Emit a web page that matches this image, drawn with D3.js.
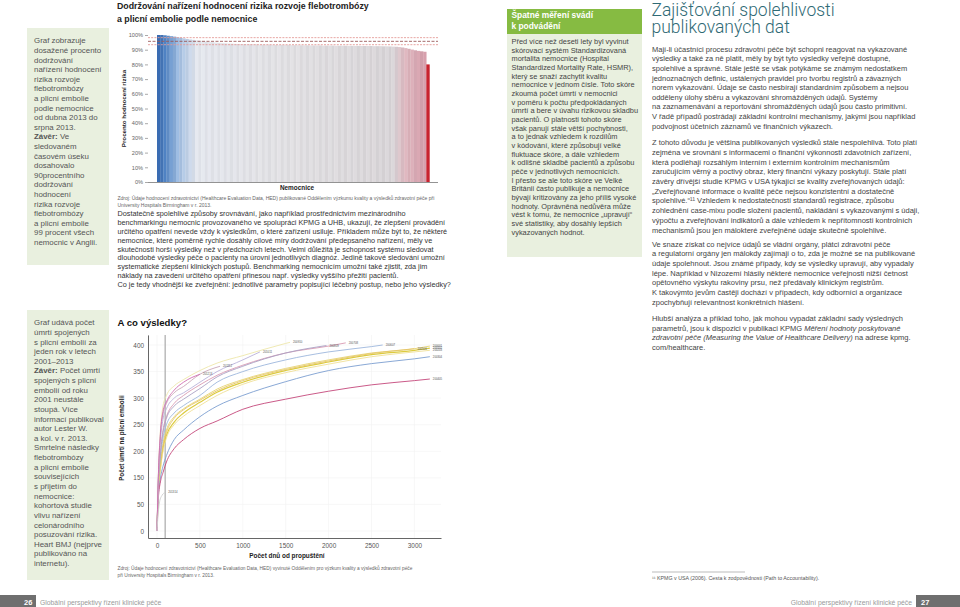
<!DOCTYPE html>
<html>
<head>
<meta charset="utf-8">
<script src="https://cdn.jsdelivr.net/npm/d3@7"></script>
<style>
  body { margin: 0; background: #fff; }
  svg { display: block; font-family: "Liberation Sans", Arial, sans-serif; }
  text { white-space: pre; }
</style>
</head>
<body>
<div id="page"></div>
<script>
'use strict';

// ---- chart 1: compliance with VTE risk assessment, one bar per hospital
let hospitalPct = [
  100, 100, 99.8, 99.5, 99.2, 98.9, 98.5, 98.1, 97.7, 97.3,
  97.0, 96.7, 96.4, 96.1, 95.8, 95.5, 95.3, 95.1, 94.9, 94.7,
  94.5, 94.3, 94.2, 94.1, 94.0, 93.9, 93.8, 93.8, 93.7, 93.7,
  93.6, 93.6, 93.5, 93.5, 93.4, 93.4, 93.3, 93.3, 93.3, 93.2,
  93.2, 93.2, 93.1, 93.1, 93.1, 93.0, 93.0, 93.0, 92.9, 92.9,
  92.9, 92.9, 92.8, 92.8, 92.8, 92.8, 92.7, 92.7, 92.7, 92.7,
  92.6, 92.6, 92.6, 92.6, 92.5, 92.5, 92.5, 92.5, 92.4, 92.4,
  92.4, 92.3, 92.3, 92.2, 92.1, 92.0, 91.8, 91.5, 91.1, 90.6,
  90.1, 89.6, 89.2, 88.9, 88.6, 80.0
];
let targetPct = [98.2, 95.7, 93.4];
let pctTicks = [0, 10, 20, 30, 40, 50, 60, 70, 80, 90, 100];

// ---- chart 2: cumulative deaths from pulmonary embolism by days since discharge
let cohortNames = ['200001', '200102', '200203', '200304', '200405', '200506', '200607',
  '200708', '200809', '200910', '201011', '201112', '201213', '201314'];
let cohortColors = ['#e6d470', '#dccb3e', '#efe096', '#7c9ed0', '#c4477a', '#e5c468', '#9db7dc',
  '#d99ab2', '#aaa2c4', '#ede7aa', '#bab2da', '#c9a6b8', '#cf6cb0', '#cfcfcf'];
let cohortPoints = [
  [[0, 0], [15, 110], [40, 180], [70, 215], [110, 240], [200, 265], [310, 280], [500, 298], [700, 317], [1000, 335], [1500, 356], [2000, 372], [2500, 385], [3000, 393], [3180, 398]],
  [[0, 0], [15, 100], [40, 170], [70, 205], [110, 230], [200, 255], [310, 272], [500, 292], [700, 311], [1000, 330], [1500, 352], [2000, 368], [2500, 382], [3000, 390], [3180, 394]],
  [[0, 0], [15, 95], [40, 165], [70, 200], [110, 225], [200, 250], [310, 266], [500, 286], [700, 305], [1000, 326], [1500, 348], [2000, 364], [2500, 378], [3000, 387], [3180, 390]],
  [[0, 0], [15, 85], [40, 150], [70, 172], [110, 192], [200, 222], [310, 240], [500, 265], [700, 285], [1000, 305], [1500, 331], [2000, 352], [2500, 365], [3000, 374], [3180, 378]],
  [[0, 0], [15, 70], [40, 135], [70, 160], [110, 180], [200, 205], [310, 222], [500, 243], [700, 257], [1000, 279], [1500, 298], [2000, 313], [2500, 325], [3000, 333], [3180, 336]],
  [[0, 0], [15, 105], [40, 175], [70, 210], [110, 235], [200, 262], [310, 278], [500, 296], [700, 314], [1000, 333], [1500, 354], [2000, 370], [2500, 384], [3000, 393]],
  [[0, 0], [15, 120], [40, 190], [70, 225], [110, 250], [200, 272], [310, 286], [500, 305], [700, 330], [1000, 350], [1500, 372], [2000, 387], [2500, 397], [2630, 400]],
  [[0, 0], [15, 130], [40, 200], [70, 240], [110, 265], [200, 290], [310, 305], [500, 325], [700, 343], [1000, 362], [1500, 385], [2000, 398], [2200, 404]],
  [[0, 0], [15, 125], [40, 195], [70, 235], [110, 262], [200, 285], [310, 298], [500, 318], [700, 340], [1000, 360], [1500, 385], [1975, 399]],
  [[0, 0], [15, 150], [40, 240], [70, 285], [110, 305], [200, 323], [310, 335], [500, 352], [700, 366], [1000, 380], [1500, 403], [1550, 405]],
  [[0, 0], [15, 140], [40, 220], [70, 260], [110, 280], [200, 300], [310, 310], [500, 330], [700, 350], [1000, 372], [1200, 387]],
  [[0, 0], [15, 145], [40, 230], [70, 270], [110, 290], [200, 310], [310, 322], [500, 345], [735, 360]],
  [[0, 0], [15, 150], [40, 235], [70, 275], [110, 293], [200, 315], [310, 330], [500, 345]],
  [[0, 0], [10, 25], [30, 60], [60, 85], [95, 95]]
];
let deathTicks = [0, 50, 150, 200, 250, 300, 350, 400];
let dayTicks = [0, 500, 1000, 1500, 2000, 2500, 3000];
let cutoffDay = 95;

// ---- page text
let side1 = ['Graf zobrazuje', 'dosažené procento', 'dodržování', 'nařízení hodnocení', 'rizika rozvoje',
  'flebotrombózy', 'a plicní embolie', 'podle nemocnice', 'od dubna 2013 do', 'srpna 2013.',
  [['Závěr:', 'b'], [' Ve', '']], 'sledovaném', 'časovém úseku', 'dosahovalo', '90procentního', 'dodržování',
  'hodnocení', 'rizika rozvoje', 'flebotrombózy', 'a plicní embolie', '99 procent všech', 'nemocnic v Anglii.'];
let side2 = ['Graf udává počet', 'úmrtí spojených', 's plicní embolií za', 'jeden rok v letech', '2001–2013',
  [['Závěr:', 'b'], [' Počet úmrtí', '']], 'spojených s plicní', 'embolií od roku', '2001 neustále', 'stoupá. Více',
  'informací publikoval', 'autor Lester W.', 'a kol. v r. 2013.', 'Smrtelné následky', 'flebotrombózy',
  'a plicní embolie', 'souvisejících', 's přijetím do', 'nemocnice:', 'kohortová studie', 'vlivu nařízení',
  'celonárodního', 'posuzování rizika.', 'Heart BMJ (nejprve', 'publikováno na', 'internetu).'];
let midText = [
  'Dostatečně spolehlivé způsoby srovnávání, jako například prostřednictvím mezinárodního',
  'benchmarkingu nemocnic provozovaného ve spolupráci KPMG a UHB, ukazují, že zlepšení provádění',
  'určitého opatření nevede vždy k výsledkům, o které zařízení usiluje. Příkladem může být to, že některé',
  'nemocnice, které poměrně rychle dosáhly cílové míry dodržování předepsaného nařízení, měly ve',
  'skutečnosti horší výsledky než v předchozích letech. Velmi důležitá je schopnost systému sledovat',
  'dlouhodobé výsledky péče o pacienty na úrovni jednotlivých diagnóz. Jedině takové sledování umožní',
  'systematické zlepšení klinických postupů. Benchmarking nemocnicím umožní také zjistit, zda jim',
  'náklady na zavedení určitého opatření přinesou např. výsledky vyššího přežití pacientů.',
  'Co je tedy vhodnější ke zveřejnění: jednotlivé parametry popisující léčebný postup, nebo jeho výsledky?'];
let boxText = ['Před více než deseti lety byl vyvinut', 'skórovací systém Standardizovaná',
  'mortalita nemocnice (Hospital', 'Standardized Mortality Rate, HSMR),', 'který se snaží zachytit kvalitu',
  'nemocnice v jednom čísle. Toto skóre', 'zkoumá počet úmrtí v nemocnici', 'v poměru k počtu předpokládaných',
  'úmrtí a bere v úvahu rizikovou skladbu', 'pacientů. O platnosti tohoto skóre', 'však panují stále větší pochybnosti,',
  'a to jednak vzhledem k rozdílům', 'v kódování, které způsobují velké', 'fluktuace skóre, a dále vzhledem',
  'k odlišné skladbě pacientů a způsobu', 'péče v jednotlivých nemocnicích.', 'I přesto se ale toto skóre ve Velké',
  'Británii často publikuje a nemocnice', 'bývají kritizovány za jeho příliš vysoké', 'hodnoty. Oprávněná nedůvěra může',
  'vést k tomu, že nemocnice „upravují“', 'své statistiky, aby dosáhly lepších', 'vykazovaných hodnot.'];
let col4p1 = ['Mají-li účastníci procesu zdravotní péče být schopni reagovat na vykazované',
  'výsledky a také za ně platit, měly by být tyto výsledky veřejně dostupné,',
  'spolehlivé a správné. Stále ještě se však potýkáme se známým nedostatkem',
  'jednoznačných definic, ustálených pravidel pro tvorbu registrů a závazných',
  'norem vykazování. Údaje se často nesbírají standardním způsobem a nejsou',
  'odděleny úlohy sběru a vykazování shromážděných údajů. Systémy',
  'na zaznamenávání a reportování shromážděných údajů jsou často primitivní.',
  'V řadě případů postrádají základní kontrolní mechanismy, jakými jsou například',
  'podvojnost účetních záznamů ve finančních výkazech.'];
let col4p2 = ['Z tohoto důvodu je většina publikovaných výsledků stále nespolehlivá. Toto platí',
  'zejména ve srovnání s informacemi o finanční výkonnosti zdavotních zařízení,',
  'která podléhají rozsáhlým interním i externím kontrolním mechanismům',
  'zaručujícím věrný a poctivý obraz, který finanční výkazy poskytují. Stále platí',
  'závěry dřívější studie KPMG v USA týkající se kvality zveřejňovaných údajů:',
  '„Zveřejňované informace o kvalitě péče nejsou konzistentní a dostatečně',
  'spolehlivé.“¹¹ Vzhledem k nedostatečnosti standardů registrace, způsobu',
  'zohlednění case-mixu podle složení pacientů, nakládání s vykazovanými s údaji,',
  'výpočtu a zveřejňování indikátorů a dále vzhledem k nepřítomnosti kontrolních',
  'mechanismů jsou jen málokteré zveřejněné údaje skutečně spolehlivé.'];
let col4p3 = ['Ve snaze získat co nejvíce údajů se vládní orgány, plátci zdravotní péče',
  'a regulatorní orgány jen málokdy zajímají o to, zda je možné se na publikované',
  'údaje spolehnout. Jsou známé případy, kdy se výsledky upravují, aby vypadaly',
  'lépe. Například v Nizozemí hlásily některé nemocnice veřejnosti nižší četnost',
  'opětovného výskytu rakoviny prsu, než předávaly klinickým registrům.',
  'K takovýmto jevům častěji dochází v případech, kdy odborníci a organizace',
  'zpochybňují relevantnost konkrétních hlášení.'];
let col4p4 = ['Hlubší analýza a příklad toho, jak mohou vypadat základní sady výsledných',
  [['parametrů, jsou k dispozici v publikaci KPMG ', ''], ['Měření hodnoty poskytované', 'i']],
  [['zdravotní péče (Measuring the Value of Healthcare Delivery)', 'i'], [' na adrese kpmg.', '']],
  'com/healthcare.'];

let svg = d3.select('#page').append('svg')
  .attr('width', 960)
  .attr('height', 607);

function textBlock(lines, x, y, lh, size, color, weight) {
  let t = svg.append('text')
    .attr('font-size', size)
    .attr('fill', color)
    .attr('font-weight', weight || 'normal');
  lines.forEach((line, i) => {
    let segs = Array.isArray(line) ? line : [[line, '']];
    segs.forEach((s, j) => {
      let ts = t.append('tspan').text(s[0]);
      if (j === 0) ts.attr('x', x).attr('y', y + i * lh);
      if (s[1] === 'b') ts.attr('font-weight', 'bold');
      if (s[1] === 'i') ts.attr('font-style', 'italic');
    });
  });
  return t;
}

// side boxes
svg.append('rect').attr('x', 27).attr('y', 28).attr('width', 82).attr('height', 237).attr('fill', '#e9f0df');
svg.append('rect').attr('x', 27).attr('y', 310).attr('width', 82).attr('height', 270).attr('fill', '#e9f0df');
textBlock(side1, 34, 43.3, 9.6, 7.9, '#555');
textBlock(side2, 34, 325.3, 9.63, 7.9, '#555');

// ---------------- chart 1
textBlock(['Dodržování nařízení hodnocení rizika rozvoje flebotrombózy', 'a plicní embolie podle nemocnice'],
  117, 9.3, 12.4, 8.8, '#222', 'bold');

let x1 = d3.scaleBand()
  .domain(d3.range(hospitalPct.length))
  .range([157, 429.5])
  .paddingInner(0);
let y1 = d3.scaleLinear()
  .domain([0, 100])
  .range([182, 35]);

let barColour = d3.scaleLinear()
  .domain([0, 2, 6, 12, 40, 74, 78, hospitalPct.length - 2])
  .range(['#3a6cb2', '#4f82c3', '#9ebde3', '#e6e9f0', '#e4e3e6', '#dbd7da', '#e0b8c0', '#d7a0ad']);

svg.append('g').selectAll('rect')
  .data(hospitalPct)
  .enter()
  .append('rect')
    .attr('x', (d, i) => x1(i))
    .attr('y', d => y1(d))
    .attr('width', x1.bandwidth() + 0.2)
    .attr('height', d => y1(0) - y1(d))
    .attr('fill', (d, i) => {
      if (i === hospitalPct.length - 1) return '#c8222e';
      let c = d3.color(barColour(i));
      return i % 2 ? c.darker(0.1).formatHex() : c.formatHex();
    });

svg.append('g').selectAll('line')
  .data(targetPct)
  .enter()
  .append('line')
    .attr('x1', 148).attr('x2', 438)
    .attr('y1', d => y1(d)).attr('y2', d => y1(d))
    .attr('stroke', (d, i) => i === 1 ? '#9b5a5a' : '#e49c98')
    .attr('stroke-width', 0.9)
    .attr('stroke-dasharray', (d, i) => i === 1 ? '3,1.5' : '2,1.2');

let yAxis1 = svg.append('g')
  .attr('transform', 'translate(148,0)')
  .call(d3.axisLeft(y1).tickValues(pctTicks).tickSize(3).tickPadding(2).tickFormat(d => d + '%'));
yAxis1.select('.domain').remove();
yAxis1.selectAll('line').attr('stroke', '#aaa');
yAxis1.selectAll('text').attr('font-size', 5.6).attr('fill', '#666').attr('font-family', null);

svg.append('line')
  .attr('x1', 148).attr('x2', 438)
  .attr('y1', y1(0) + 0.5).attr('y2', y1(0) + 0.5)
  .attr('stroke', '#777').attr('stroke-width', 0.8);

svg.append('text')
  .attr('transform', 'translate(125.5,' + ((y1(0) + y1(100)) / 2) + ') rotate(-90)')
  .attr('text-anchor', 'middle')
  .attr('font-size', 6.2).attr('font-weight', 'bold').attr('fill', '#222')
  .text('Procento hodnocení rizika');
svg.append('text')
  .attr('x', 297).attr('y', 190)
  .attr('text-anchor', 'middle')
  .attr('font-size', 6.4).attr('font-weight', 'bold').attr('fill', '#222')
  .text('Nemocnice');
textBlock(['Zdroj: Údaje hodnocení zdravotnictví (Healthcare Evaluation Data, HED) publikované Oddělením výzkumu kvality a výsledků zdravotní péče při',
  'University Hospitals Birmingham v r. 2013.'], 117.5, 200.3, 6.4, 5, '#666');

// middle paragraph
textBlock(midText, 117.5, 216.3, 8.8, 7.25, '#333');

// ---------------- chart 2
svg.append('text')
  .attr('x', 117.5).attr('y', 325.5)
  .attr('font-size', 9.6).attr('font-weight', 'bold').attr('fill', '#111')
  .text('A co výsledky?');

let x2 = d3.scaleLinear()
  .domain([-105, 3310])
  .range([148, 441]);
let y2 = d3.scaleLinear()
  .domain([-13, 0, 50, 150, 200, 250, 300, 350, 400, 419])
  .range([537.9, 531, 504.4, 477.9, 451.3, 424.7, 398.1, 371.6, 345, 334.9]);

let grid = svg.append('g');
grid.selectAll('.vg')
  .data(dayTicks)
  .enter()
  .append('line')
    .attr('x1', d => x2(d)).attr('x2', d => x2(d))
    .attr('y1', 335).attr('y2', 538)
    .attr('stroke', '#f1f1f1').attr('stroke-width', 0.6);
grid.selectAll('.hg')
  .data(deathTicks)
  .enter()
  .append('line')
    .attr('x1', 148).attr('x2', 441)
    .attr('y1', d => y2(d)).attr('y2', d => y2(d))
    .attr('stroke', '#f1f1f1').attr('stroke-width', 0.6);

svg.append('line')
  .attr('x1', x2(cutoffDay)).attr('x2', x2(cutoffDay))
  .attr('y1', 335).attr('y2', 538)
  .attr('stroke', '#a9a9a9').attr('stroke-width', 1.2);

let line = d3.line()
  .x(d => x2(d[0]))
  .y(d => y2(d[1]))
  .curve(d3.curveMonotoneX);

svg.append('g').selectAll('path')
  .data(cohortPoints)
  .enter()
  .append('path')
    .attr('d', d => line(d))
    .attr('fill', 'none')
    .attr('stroke', (d, i) => cohortColors[i])
    .attr('stroke-width', (d, i) => i === 1 ? 1.2 : 0.9);

svg.append('g').selectAll('text')
  .data(cohortPoints)
  .enter()
  .append('text')
    .attr('x', d => x2(d[d.length - 1][0]) + 3)
    .attr('y', d => y2(d[d.length - 1][1]) + 1)
    .attr('font-size', 2.8)
    .attr('fill', '#555')
    .text((d, i) => cohortNames[i]);

let xAxis2 = svg.append('g')
  .attr('transform', 'translate(0,538)')
  .call(d3.axisBottom(x2).tickValues(dayTicks).tickSize(0).tickPadding(5).tickFormat(d => String(d)));
xAxis2.select('.domain').attr('stroke', '#555').attr('stroke-width', 0.9);
xAxis2.selectAll('text').attr('font-size', 6.4).attr('fill', '#555').attr('font-family', null);

let yAxis2 = svg.append('g')
  .attr('transform', 'translate(148,0)')
  .call(d3.axisLeft(y2).tickValues(deathTicks).tickSize(0).tickPadding(4));
yAxis2.select('.domain').attr('stroke', '#555').attr('stroke-width', 0.9);
yAxis2.selectAll('text').attr('font-size', 6.4).attr('fill', '#555').attr('font-family', null);

svg.append('text')
  .attr('transform', 'translate(123.5,438) rotate(-90)')
  .attr('text-anchor', 'middle')
  .attr('font-size', 6.3).attr('font-weight', 'bold').attr('fill', '#222')
  .text('Počet úmrtí na plicní embolii');
svg.append('text')
  .attr('x', 287).attr('y', 557.5)
  .attr('text-anchor', 'middle')
  .attr('font-size', 6.4).attr('font-weight', 'bold').attr('fill', '#222')
  .text('Počet dnů od propuštění');
textBlock(['Zdroj: Údaje hodnocení zdravotnictví (Healthcare Evaluation Data, HED) vyvinuté Oddělením pro výzkum kvality a výsledků zdravotní péče',
  'při University Hospitals Birmingham v r. 2013.'], 117.5, 569.8, 7.2, 4.8, '#666');

// ---------------- column 3 box
svg.append('rect').attr('x', 507).attr('y', 9).attr('width', 135).attr('height', 25).attr('fill', '#86bb42');
svg.append('rect').attr('x', 507).attr('y', 34).attr('width', 135).attr('height', 223).attr('fill', '#e9f0df');
textBlock(['Špatné měření svádí', 'k podvádění'], 511.5, 18.3, 10.2, 8.4, '#fff', 'bold');
textBlock(boxText, 511.5, 44.1, 8.66, 7.4, '#444');

// ---------------- column 4
textBlock(['Zajišťování spolehlivosti', 'publikovaných dat'], 651.5, 16, 16.7, 17.5, '#2f6a75')
  .attr('font-family', 'Roboto, "Open Sans", sans-serif').attr('font-weight', 300);
textBlock(col4p1, 652, 51.8, 9.6, 7.5, '#444');
textBlock(col4p2, 652, 145.2, 9.7, 7.5, '#444');
textBlock(col4p3, 652, 246.5, 9.67, 7.5, '#444');
textBlock(col4p4, 652, 321.2, 9.6, 7.5, '#444');

svg.append('line').attr('x1', 652).attr('x2', 745).attr('y1', 572).attr('y2', 572)
  .attr('stroke', '#777').attr('stroke-width', 0.5);
svg.append('text').attr('x', 652).attr('y', 580).attr('font-size', 5.3).attr('fill', '#555')
  .text('¹¹ KPMG v USA (2006). Cesta k zodpovědnosti (Path to Accountability).');

// ---------------- footer
svg.append('rect').attr('x', 0).attr('y', 595).attr('width', 36).attr('height', 12).attr('fill', '#6f6f6f');
svg.append('text').attr('x', 24).attr('y', 604.5).attr('font-size', 7.5).attr('font-weight', 'bold')
  .attr('fill', '#fff').text('26');
svg.append('text').attr('x', 40).attr('y', 604.5).attr('font-size', 6.8).attr('fill', '#9a9a9a')
  .text('Globální perspektivy řízení klinické péče');
svg.append('rect').attr('x', 916).attr('y', 595).attr('width', 44).attr('height', 12).attr('fill', '#6f6f6f');
svg.append('text').attr('x', 921).attr('y', 604.5).attr('font-size', 7.5).attr('font-weight', 'bold')
  .attr('fill', '#fff').text('27');
svg.append('text').attr('x', 912).attr('y', 604.5).attr('text-anchor', 'end').attr('font-size', 6.8)
  .attr('fill', '#9a9a9a').text('Globální perspektivy řízení klinické péče');
</script>
</body>
</html>
